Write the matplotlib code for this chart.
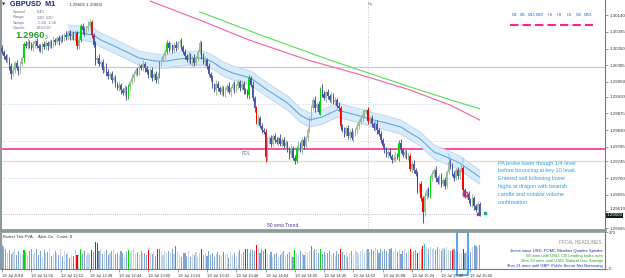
import matplotlib
matplotlib.use("Agg")
import matplotlib.pyplot as plt
from matplotlib.lines import Line2D
from matplotlib.patches import Rectangle
import numpy as np

W, H = 625, 278
plt.rcParams["font.family"] = ["Liberation Sans", "DejaVu Sans"]

# ---- data (prices in points above 1.29000) ----
BASE = 1.29
open0 = 1051
close_pts = [
    1041, 1030, 1019, 1024, 1003, 981, 992, 1011, 997, 987,
    1008, 1024, 1062, 1057, 1068, 1060, 1051, 1062, 1070, 1057,
    1051, 1046, 1062, 1054, 1065, 1057, 1068, 1060, 1073, 1068,
    1078, 1070, 1081, 1076, 1086, 1081, 1092, 1084, 1089, 1078,
    1092, 1057, 1073, 1111, 1100, 1092, 1105, 1111, 1122, 1086,
    1060, 1019, 1024, 1008, 1014, 992, 1000, 987, 976, 981,
    965, 970, 954, 943, 951, 938, 930, 943, 922, 946,
    960, 970, 981, 992, 987, 1003, 997, 1008, 997, 987,
    979, 992, 970, 981, 965, 976, 1011, 1019, 1030, 1041,
    1065, 1051, 1057, 1046, 1060, 1051, 1065, 1068, 1054, 1041,
    1030, 1019, 1032, 1014, 1024, 1011, 1024, 1041, 1065, 1030,
    1014, 1019, 1003, 981, 970, 951, 938, 954, 943, 933,
    943, 927, 938, 949, 933, 943, 954, 938, 949, 960,
    943, 954, 938, 933, 924, 970, 951, 916, 889, 852,
    862, 841, 830, 825, 757, 798, 808, 792, 814, 803,
    798, 808, 792, 803, 787, 795, 776, 765, 781, 754,
    746, 781, 792, 776, 803, 787, 808, 830, 862, 889,
    911, 889, 900, 879, 941, 927, 916, 933, 922, 911,
    924, 906, 911, 895, 889, 841, 830, 819, 835, 814,
    825, 808, 819, 830, 841, 852, 862, 873, 879, 884,
    854, 862, 846, 835, 846, 830, 819, 803, 787, 776,
    765, 771, 760, 749, 754, 763, 757, 795, 776, 763,
    771, 757, 760, 725, 738, 722, 711, 668, 684, 646,
    609, 652, 668, 655, 700, 711, 722, 700, 690, 706,
    684, 695, 679, 717, 744, 736, 711, 700, 722, 706,
    722, 727, 668, 652, 657, 641, 630, 646, 625, 614, 630, 603,
]
wick_up = [
    8, 5, 6, 10, 4, 7, 12, 5, 8, 6, 9, 5, 6, 8, 11, 4, 7, 9, 5, 8,
    6, 10, 5, 7, 9, 4, 8, 6, 10, 5, 7, 9, 5, 8, 6, 11, 4, 7, 9, 6,
    8, 5, 10, 6, 9, 7, 5, 12, 8, 6, 5, 9, 7, 10, 6, 8, 4, 11, 7, 5,
    9, 6, 8, 5, 10, 7, 6, 9, 5, 8, 6, 10, 7, 5, 9, 8, 6, 11, 5, 7,
    8, 6, 9, 5, 7, 10, 6, 8, 5, 9, 7, 5, 10, 6, 8, 9, 5, 7, 11, 6,
    8, 6, 9, 5, 7, 10, 6, 8, 9, 5, 7, 10, 5, 8, 6, 9, 5, 12, 7, 6,
    9, 5, 8, 6, 10, 7, 5, 9, 6, 8, 6, 10, 7, 5, 9, 8, 6, 10, 7, 5,
    8, 6, 9, 5, 7, 12, 6, 8, 5, 9, 7, 5, 10, 6, 8, 9, 5, 7, 11, 6,
    8, 6, 9, 5, 7, 10, 6, 8, 5, 9, 7, 10, 5, 8, 6, 14, 9, 5, 7, 6,
    9, 5, 8, 6, 10, 7, 5, 9, 6, 8, 6, 10, 7, 5, 9, 8, 6, 10, 7, 5,
    8, 6, 9, 5, 7, 10, 6, 8, 5, 9, 7, 5, 10, 6, 8, 9, 5, 7, 11, 6,
    8, 6, 9, 5, 7, 10, 6, 8, 5, 9, 7, 10, 5, 8, 6, 9, 5, 12, 7, 6,
    9, 5, 8, 6, 10, 7, 5, 9, 6, 8, 6, 10, 7, 5, 9, 8, 6, 10, 7, 5, 8, 6,
]
wick_dn = [
    6, 9, 5, 7, 10, 12, 6, 8, 5, 9, 7, 5, 10, 6, 8, 9, 5, 7, 11, 6,
    8, 6, 9, 5, 7, 10, 6, 8, 5, 9, 7, 10, 5, 8, 6, 9, 5, 12, 7, 6,
    9, 8, 8, 6, 10, 7, 5, 9, 6, 8, 6, 14, 7, 5, 9, 8, 6, 10, 7, 5,
    8, 6, 9, 5, 7, 10, 6, 8, 12, 9, 7, 5, 10, 6, 8, 9, 5, 7, 11, 6,
    8, 6, 9, 5, 7, 10, 6, 8, 5, 9, 7, 10, 5, 8, 6, 9, 5, 12, 7, 6,
    9, 5, 8, 6, 10, 7, 5, 9, 6, 8, 6, 10, 7, 5, 9, 8, 6, 14, 7, 5,
    8, 6, 9, 5, 7, 10, 6, 8, 5, 9, 7, 5, 10, 6, 8, 9, 5, 7, 11, 6,
    8, 6, 9, 5, 14, 10, 6, 8, 5, 9, 7, 10, 5, 8, 6, 9, 5, 12, 7, 6,
    9, 5, 8, 6, 10, 7, 5, 9, 6, 8, 6, 10, 7, 5, 9, 8, 6, 10, 7, 5,
    8, 6, 9, 5, 7, 10, 6, 8, 5, 9, 7, 5, 10, 6, 8, 9, 5, 7, 11, 6,
    8, 6, 9, 5, 7, 10, 6, 8, 5, 9, 7, 10, 5, 8, 6, 9, 5, 12, 7, 6,
    9, 5, 8, 6, 10, 7, 5, 9, 6, 8, 30, 10, 7, 5, 9, 8, 6, 10, 7, 5,
    8, 6, 9, 5, 7, 10, 6, 8, 5, 9, 7, 5, 10, 6, 8, 9, 5, 7, 11, 6, 8, 5,
]
candle_green = [12, 43, 69, 86, 90, 135, 161, 174, 217, 234]
candle_red = [41, 49, 51, 109, 139, 144, 185, 200, 223, 227, 229, 230, 252]

volume = [
    180, 165, 150, 120, 140, 110, 125, 150, 105, 130,
    115, 100, 140, 125, 95, 135, 150, 110, 120, 145,
    100, 130, 85, 140, 115, 125, 150, 95, 110, 135,
    120, 100, 145, 90, 130, 110, 125, 80, 100, 95,
    140, 100, 120, 145, 110, 130, 100, 120, 105, 140,
    125, 195, 190, 130, 150, 110, 125, 140, 100, 120,
    135, 145, 110, 120, 100, 130, 115, 90, 125, 140,
    120, 130, 150, 110, 125, 100, 135, 115, 120, 105,
    140, 120, 110, 130, 95, 145, 150, 125, 100, 135,
    115, 130, 120, 145, 110, 170, 125, 100, 90, 115,
    120, 95, 130, 85, 110, 100, 125, 90, 115, 150,
    105, 120, 95, 130, 100, 115, 85, 110, 125, 100,
    95, 125, 110, 120, 80, 135, 100, 115, 90, 125,
    140, 110, 125, 150, 150, 120, 145, 140, 130, 175,
    145, 120, 150, 130, 150, 115, 100, 125, 90, 110,
    120, 85, 100, 115, 130, 95, 110, 125, 100, 90,
    140, 120, 110, 130, 115, 100, 125, 120, 135, 170,
    130, 150, 145, 120, 150, 110, 125, 100, 115, 130,
    105, 120, 95, 130, 110, 145, 125, 100, 120, 90,
    115, 130, 100, 140, 125, 110, 135, 150, 120, 140,
    145, 125, 150, 130, 155, 140, 120, 145, 130, 150,
    135, 120, 145, 155, 130, 150, 125, 140, 110, 135,
    150, 120, 130, 145, 125, 130, 140, 120, 135, 150,
    170, 185, 160, 150, 165, 145, 155, 140, 160, 150,
    135, 155, 145, 160, 140, 130, 140, 150, 135, 125,
    110, 120, 145, 115, 130, 105, 125, 165, 175, 170, 160, 175,
]
vol_green = [12, 39, 43, 69, 86, 95, 121, 134, 160, 169, 174]
vol_red = [41, 49, 51, 52, 80, 85, 109, 133, 139, 144, 185, 223, 227, 230, 246, 252]
vol_cyan = [231]
vol_max = 272

# dragon band (ema of highs / lows) and its centre
ema_bars = [36, 43, 50, 54, 59, 68, 75, 84, 90, 97, 104, 110, 115, 120, 126, 136, 145,
            156, 163, 168, 175, 183, 194, 203, 210, 218, 225, 228, 236, 243, 250, 257, 261]
ema_mid = [1095, 1092, 1086, 1073, 1062, 1041, 1024, 1016, 1016, 1022, 1024, 1024, 1014,
           997, 984, 970, 938, 903, 870, 857, 865, 884, 870, 857, 849, 838, 816, 808,
           771, 757, 741, 717, 703]
ema_hi = [1114, 1111, 1105, 1092, 1081, 1060, 1043, 1035, 1035, 1041, 1043, 1043, 1033,
          1016, 1003, 989, 957, 922, 889, 876, 884, 903, 889, 876, 868, 857, 835, 827,
          790, 776, 760, 736, 722]
ema_lo = [1076, 1073, 1067, 1054, 1043, 1022, 1005, 997, 997, 1003, 1005, 1005, 995,
          978, 965, 951, 919, 884, 851, 838, 846, 865, 851, 838, 830, 819, 797, 789,
          752, 738, 722, 698, 684]

# slow moving averages
pink_bars = [81, 108, 135, 167, 196, 223, 245, 261]
pink_ma = [1178, 1127, 1073, 1019, 979, 938, 897, 857]
green_bars = [108, 141, 179, 228, 261]
green_ma = [1149, 1087, 1019, 938, 887]

# levels
round_level = 1.30000
quarter_levels = [1.29900, 1.29800, 1.29700]
rdl_level = 1.29779
tan_level = 1.29746
bid = 1.29603
ny_bar = 200

signal_bars = [244, 252]
signal_prices = [1.29757, 1.29746]
entry_bar, entry_price = 253, 1.29657

price_ticks = [1.30140, 1.30095, 1.30050, 1.30005, 1.29960, 1.29920, 1.29875,
               1.29830, 1.29785, 1.29745, 1.29700, 1.29655, 1.29610, 1.29565]
time_labels = ["19 Jul 2018", "19 Jul 11:56", "19 Jul 12:12", "19 Jul 12:28",
               "19 Jul 12:44", "19 Jul 13:00", "19 Jul 13:16", "19 Jul 13:32",
               "19 Jul 13:48", "19 Jul 14:04", "19 Jul 14:20", "19 Jul 14:36",
               "19 Jul 14:52", "19 Jul 15:08", "19 Jul 15:24", "19 Jul 15:40",
               "19 Jul 15:56"]

note_lines = ["PA broke lower though 1/4 level",
              "before bouncing at key 10 level.",
              "Entered sell following lower",
              "highs at dragon with bearish",
              "candle and notable volume",
              "confirmation."]
headlines = [("1mins since USD: FOMC Member Quarles Speaks", "#1a2a9a"),
             ("58 mins until USD: CB Leading Index m/m", "#1f9a1f"),
             ("1hrs 29 mins until USD: Natural Gas Storage", "#1f9a1f"),
             ("9hrs 21 mins until GBP: Public Sector Net Borrowing", "#1a2ad0")]


def to_price(p):
    return BASE + np.asarray(p, dtype=float) / 1e5


def box(x0, y0, x1, y1):
    return [x0 / W, 1 - y1 / H, (x1 - x0) / W, (y1 - y0) / H]


def fxy(x, y):
    return x / W, 1 - y / H


closes = to_price(close_pts)
opens = np.r_[to_price(open0), closes[:-1]]
highs = np.maximum(opens, closes) + np.array(wick_up) / 1e5
lows = np.minimum(opens, closes) - np.array(wick_dn) / 1e5
bars = np.arange(len(closes))
last_bar = bars[-1]

fig = plt.figure(figsize=(W / 100, H / 100), dpi=100)
ax = fig.add_axes(box(1, 0, 605, 230))
axv = fig.add_axes(box(1, 232, 605, 269))

grid_c = "#8e9a9a"
for a in (ax, axv):
    a.set_xlim(-0.55, 329.5)
    a.spines["top"].set_visible(False)
    a.spines["left"].set_color(grid_c)
    a.spines["right"].set_color("#707a7a")
    a.spines["right"].set_linewidth(0.8)
    a.yaxis.tick_right()
    a.tick_params(axis="y", length=2, width=0.5, color="#707a7a", pad=1,
                  labelsize=3.2, labelcolor="#333333")
ax.spines["left"].set_linewidth(1.5)
ax.spines["bottom"].set_color(grid_c)
ax.spines["bottom"].set_linewidth(2)
axv.spines["left"].set_linewidth(1.5)
axv.spines["top"].set_visible(True)
axv.spines["top"].set_color(grid_c)
axv.spines["top"].set_linewidth(1.2)
axv.spines["bottom"].set_color("#707a7a")
axv.spines["bottom"].set_linewidth(0.8)

ax.set_ylim(to_price(560), to_price(1181))
ax.set_xticks([])
ax.set_yticks(price_ticks)
ax.set_yticklabels([f"{t:.5f}" for t in price_ticks])
# the tick just above the bid box sits a little higher, as in the terminal
ax.get_yticklabels()[-2].set_va("bottom")

# level lines
ax.axhline(round_level, color="#c9c6ee", lw=0.9, zorder=1)
ax.hlines(quarter_levels, -1, last_bar, colors="#a9c4e6", lw=0.6,
          linestyles=(0, (1, 2)), zorder=1)
ax.axhline(rdl_level, color="#ff2d8d", lw=1.2, zorder=1)
ax.axhline(tan_level, color="#efdcc2", lw=1.0, zorder=1)
ax.hlines(bid, -1, last_bar, colors="#a8a8a8", lw=0.6, linestyles=(0, (1, 1.5)), zorder=1)
ax.axvline(ny_bar, color="#b0b0b0", lw=0.6, ls=(0, (1, 2)), zorder=1)

# dragon
ax.fill_between(ema_bars, to_price(ema_lo), to_price(ema_hi), color="#d9eaf9", lw=0, zorder=2)
ax.plot(ema_bars, to_price(ema_hi), color="#b5d4f1", lw=0.6, zorder=2)
ax.plot(ema_bars, to_price(ema_lo), color="#b5d4f1", lw=0.6, zorder=2)
ax.plot(ema_bars, to_price(ema_mid), color="#4e9fe4", lw=0.7, zorder=2)

# slow MAs
ax.plot(pink_bars, to_price(pink_ma), color="#f0609a", lw=0.8, zorder=2)
ax.plot(green_bars, to_price(green_ma), color="#55dd55", lw=0.8, zorder=2)

# candles
up = closes >= opens
body_c = np.where(up, "#96bf96", "#4b55a8").astype(object)
wick_c = np.where(up, "#8fb08f", "#36409a").astype(object)
for i in candle_green:
    body_c[i] = "#00dd00"
    wick_c[i] = "#00b000"
for i in candle_red:
    body_c[i] = "#ff0000"
    wick_c[i] = "#d00000"
ax.vlines(bars, lows, highs, colors=list(wick_c), lw=0.6, zorder=3)
ax.bar(bars, np.maximum(np.abs(closes - opens), 1.2e-5), bottom=np.minimum(opens, closes),
       width=0.75, color=list(body_c), lw=0, zorder=4)

# signals
for b, p in zip(signal_bars, signal_prices):
    ax.text(b, p, "\u21e9", color="#7cb9ea", fontsize=5, ha="center", va="center",
            family="DejaVu Sans", zorder=5)
ax.plot(entry_bar, entry_price, "o", mfc="none", mec="#e0207a", ms=3.5, mew=0.9, zorder=6)
ax.plot(last_bar - 1, bid - 0.00001, "s", color="#8a35d0", ms=1.5, zorder=6)
ax.plot(last_bar + 3, bid + 0.00002, "s", color="#1aa58a", ms=1.5, zorder=6)

ax.text(131, 1.29766, "RDL", fontsize=3.3, color="#777777", ha="left", va="center")
ax.text(145, 1.29573, "50 ema Trend", fontsize=3.6, color="#4a3c9e", ha="left", va="center")
ax.text(1.002, bid - 0.00003, f"{bid:.5f}", transform=ax.get_yaxis_transform(), fontsize=3.2,
        color="white", ha="left", va="center",
        bbox=dict(boxstyle="square,pad=0.15", fc="#0b1a1a", ec="none"))

# volume
axv.set_ylim(0, vol_max)
axv.set_yticks([0, vol_max])
vol_c = np.where(up, "#c2d4ea", "#7ea5cf").astype(object)
for i in vol_green:
    vol_c[i] = "#00dd00"
for i in vol_red:
    vol_c[i] = "#ff0000"
for i in vol_cyan:
    vol_c[i] = "#2ec8d8"
axv.bar(bars, volume, width=0.6, color=list(vol_c), lw=0)
axv.set_xticks(np.arange(0, len(time_labels) * 16, 16))
axv.set_xticklabels(time_labels)
axv.tick_params(axis="x", length=2, width=0.5, color="#707a7a", pad=1.5,
                labelsize=3.0, labelcolor="#333333")
for t in axv.get_xticklabels():
    t.set_ha("left")
axv.add_patch(Rectangle((248.6, -45), 6.0, vol_max + 45, fill=False, ec="#1e90ff",
                        lw=1.1, clip_on=False))

# header text
fig.text(*fxy(2, 5), "\u25bc", fontsize=3, color="#333333", va="center", family="DejaVu Sans")
fig.text(*fxy(10, 5), "GBPUSD  M1", fontsize=5.2, weight="bold", color="#16237a", va="center")
fig.text(*fxy(69, 5), "1.29602 1.29603", fontsize=3.2, color="#333333", va="center")
for k, (lab, val) in enumerate([("Spread", "0.40"), ("Range", "120, 120"),
                                ("Swaps", "-5.50, 1.56"), ("Candle", "00:00:07")]):
    fig.text(*fxy(13, 12 + 5.3 * k), lab, fontsize=2.9, color="#6a6f8a", va="center")
    fig.text(*fxy(37, 12 + 5.3 * k), val, fontsize=2.9, color="#6a6f8a", va="center")
fig.text(*fxy(15, 36), "1.2960", fontsize=6.8, weight="bold", color="#2a9a2a", va="center")
fig.text(*fxy(45, 37), "3", fontsize=3.6, color="#2a9a2a", va="center")
fig.text(*fxy(370, 4), "Ny", fontsize=3.2, color="#888888", va="center", ha="center")

tf_labels = ["M1", "M5", "M15", "M30", "H1", "H4", "D1", "W1", "MN1"]
tf_x = [512, 520, 528, 536, 548, 557, 567, 576, 584]
for lab, x in zip(tf_labels, tf_x):
    fig.text(*fxy(x, 15), lab, fontsize=3.0, color="#3a78c8", va="center")
fig.add_artist(Line2D([510 / W, 593 / W], [1 - 25 / H] * 2, color="#ff1f8f", lw=1.5,
                      dashes=(4, 2)))

for k, line in enumerate(note_lines):
    fig.text(*fxy(498, 163 + 7.8 * k), line, fontsize=4.0, color="#2f9ee0", va="center")

fig.text(*fxy(3, 237), "Broker Tick PVA:    Alert On,  Count: 8", fontsize=3.0,
         color="#333333", va="center")
fig.text(*fxy(603, 243), "FFCAL HEADLINES:", fontsize=3.3, color="#8a8a8a",
         va="center", ha="right")
for k, (line, c) in enumerate(headlines):
    fig.text(*fxy(603, 251 + 5 * k), line, fontsize=3.0, color=c, va="center", ha="right")

fig.savefig("out.png", dpi=100)
